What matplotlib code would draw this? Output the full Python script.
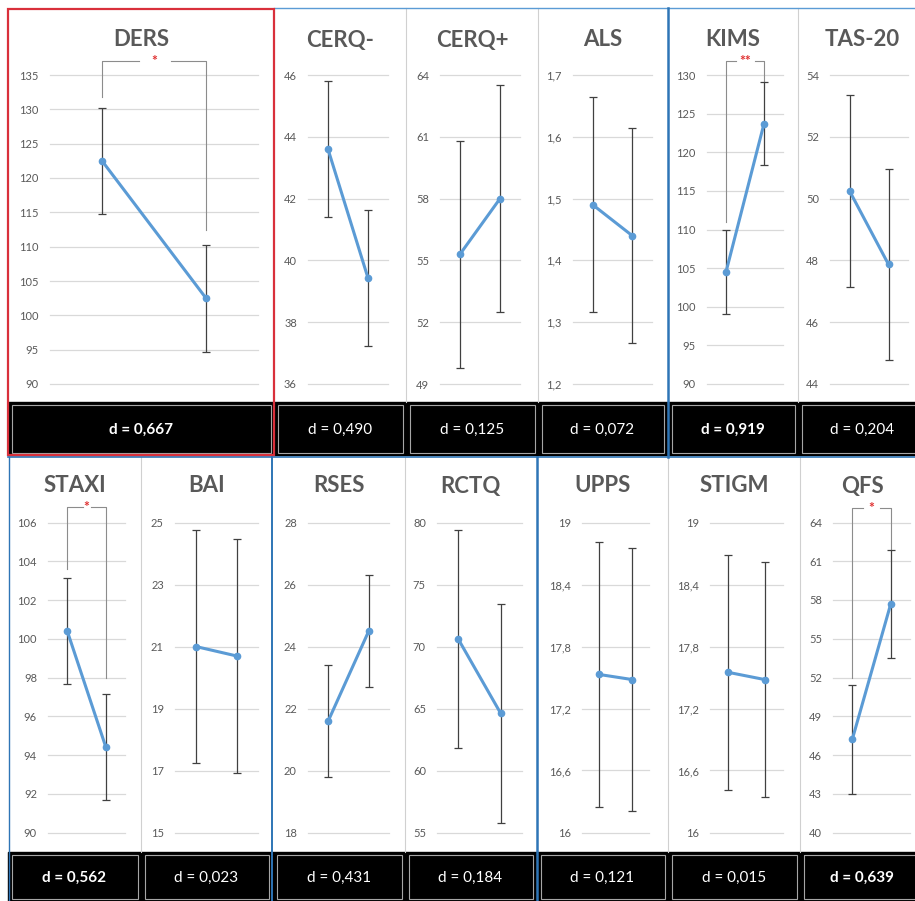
import numpy as np
import matplotlib.pyplot as plt
from matplotlib.patches import Rectangle
from matplotlib.ticker import FuncFormatter

plt.rcParams['font.family'] = ['Lato', 'DejaVu Sans']

# scales, in the order they are drawn (top row, then bottom row)
scales = ['DERS', 'CERQ-', 'CERQ+', 'ALS', 'KIMS', 'TAS-20',
          'STAXI', 'BAI', 'RSES', 'RCTQ', 'UPPS', 'STIGM', 'QFS']

# means before / after and the half-length of the error bars
pre_mean = [122.5, 43.6, 55.3, 1.49, 104.5, 50.25, 100.4, 21.0, 21.6, 70.6, 17.53, 17.55, 47.2]
post_mean = [102.5, 39.43, 58.0, 1.44, 123.7, 47.87, 94.42, 20.69, 24.5, 64.6, 17.48, 17.48, 57.7]
pre_err = [7.7, 2.2, 5.5, 0.174, 5.4, 3.1, 2.75, 3.77, 1.8, 8.8, 1.28, 1.14, 4.2]
post_err = [7.8, 2.2, 5.5, 0.174, 5.4, 3.08, 2.72, 3.78, 1.82, 8.8, 1.275, 1.14, 4.2]

# effect sizes and which ones were significant (bold label)
cohen_d = [0.667, 0.490, 0.125, 0.072, 0.919, 0.204, 0.562, 0.023, 0.431, 0.184, 0.121, 0.015, 0.639]
signif = ['*', '', '', '', '**', '', '*', '', '', '', '', '', '*']

# y axis: min, max, number of ticks
y_min = [90, 36, 49, 1.2, 90, 44, 90, 15, 18, 55, 16, 16, 40]
y_max = [135, 46, 64, 1.7, 130, 54, 106, 25, 28, 80, 19, 19, 64]
y_nticks = [10, 6, 6, 6, 9, 6, 9, 6, 6, 6, 6, 6, 9]

# ---- layout in pixels ----
W, H = 915, 901
# (panel left, panel right, grid left, grid right, row)
layout = [
    (8, 274, 50, 258, 0), (274, 406, 308, 388, 0), (406, 538, 440, 520, 0),
    (538, 667, 573, 652, 0), (668, 798, 707, 783, 0), (798, 926, 830, 908, 0),
    (8, 141, 48, 125, 1), (141, 272, 175, 258, 1), (273, 405, 308, 389, 1),
    (405, 536, 437, 522, 1), (537, 668, 582, 649, 1), (668, 800, 710, 783, 1),
    (800, 925, 833, 910, 1),
]
row_grid = [(75, 384), (522.5, 832.5)]
row_title = [40, 486]
row_band = [(402, 455), (852, 901)]
row_top = [8, 457]
# bracket: (top, left leg end, right leg end, gap left, gap right)
brackets = {
    'DERS': (137, 131.8, 112.4, 0.36, 0.66),
    'KIMS': (131.85, 111.0, 129.1, 0.27, 0.75),
    'STAXI': (106.8, 103.6, 97.96, 0.4, 0.62),
    'QFS': (65.1, 52.0, 61.9, 0.28, 0.72),
}

fig = plt.figure(figsize=(W / 100, H / 100), dpi=100)
bg = fig.add_axes([0, 0, 1, 1])
bg.set_xlim(0, W)
bg.set_ylim(H, 0)
bg.axis('off')

# black bands with the d values
for r, (b0, b1) in enumerate(row_band):
    bg.add_patch(Rectangle((8, b0), W - 8, b1 - b0, color='black', zorder=1))

comma = FuncFormatter(lambda v, pos: f'{v:g}'.replace('.', ','))

for i, name in enumerate(scales):
    p0, p1, g0, g1, r = layout[i]
    gt, gb = row_grid[r]
    b0, b1 = row_band[r]
    cx = (p0 + min(p1, W)) / 2 if p1 <= W else 862

    bg.text(cx, row_title[r], name, ha='center', va='center', fontsize=16,
            fontweight='bold', color='#595959', zorder=3)
    bg.add_patch(Rectangle((p0 + 3.5, b0 + 2.5), p1 - p0 - 7, b1 - b0 - 5, fill=False,
                           ec='#A6A6A6', lw=0.8, zorder=2))
    bg.text(cx, (b0 + b1) / 2 + 1, 'd = ' + f'{cohen_d[i]:.3f}'.replace('.', ','),
            ha='center', va='center', color='white', fontsize=11,
            fontweight='bold' if signif[i] else 'normal', zorder=3)

    ax = fig.add_axes([g0 / W, 1 - gb / H, (g1 - g0) / W, (gb - gt) / H])
    ax.set_facecolor('none')
    for s in ax.spines.values():
        s.set_visible(False)
    ax.set_xlim(-0.5, 1.5)
    ax.set_ylim(y_min[i], y_max[i])
    ax.set_xticks([])
    ax.set_yticks(np.linspace(y_min[i], y_max[i], y_nticks[i]))
    ax.yaxis.set_major_formatter(comma)
    ax.tick_params(axis='y', length=0, pad=8, labelsize=8, labelcolor='#595959')
    ax.grid(axis='y', color='#D9D9D9', lw=0.9)
    for gl in ax.get_ygridlines():
        gl.set_clip_on(False)
    ax.set_axisbelow(True)

    ax.errorbar([0, 1], [pre_mean[i], post_mean[i]], yerr=[pre_err[i], post_err[i]],
                color='#5B9BD5', lw=2.2, marker='o', ms=4.5, ecolor='#404040',
                elinewidth=0.9, capsize=3, capthick=0.9, clip_on=False, zorder=3)

    if name in brackets:
        top, lend, rend, ga, gz = brackets[name]
        kw = dict(color='#8C8C8C', lw=0.8, clip_on=False)
        ax.plot([0, 0, ga], [lend, top, top], **kw)
        ax.plot([gz, 1, 1], [top, top, rend], **kw)
        ax.text(0.5, top, signif[i], ha='center', va='center', color='#E03030',
                fontsize=10, fontweight='bold', clip_on=False)

# separators between sub-panels
sep = '#D0D0D0'
for x in [406, 538, 798]:
    bg.plot([x, x], [8, 402], color=sep, lw=0.8, zorder=2)
for x in [141, 405, 668, 800]:
    bg.plot([x, x], [457, 852], color=sep, lw=0.8, zorder=2)

# group frames
blue = '#2E75B6'
bg.plot([274, W], [8, 8], color='#5B9BD5', lw=1, zorder=4)
bg.plot([667.5, 667.5], [8, 457], color=blue, lw=1.8, zorder=4)
bg.plot([8, W], [456.5, 456.5], color=blue, lw=1.2, zorder=4)
bg.plot([8.5, 8.5], [457, H], color=blue, lw=1, zorder=4)
bg.plot([272, 272], [457, H], color=blue, lw=1.4, zorder=4)
bg.plot([536.5, 536.5], [457, H], color=blue, lw=1.8, zorder=4)
bg.add_patch(Rectangle((8, 9), 266, 446, fill=False, ec='#D9303B', lw=1.6, zorder=5))

fig.savefig('out.png', dpi=100, facecolor='white')
